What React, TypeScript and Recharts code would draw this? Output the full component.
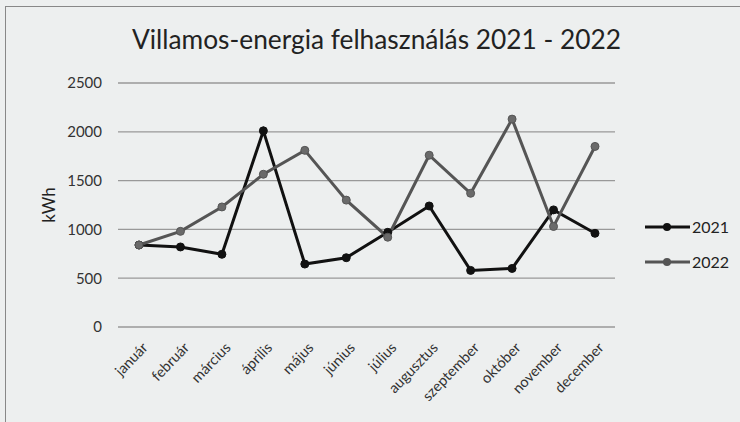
import React from 'react';
import { LineChart, Line, XAxis, YAxis, CartesianGrid, Label } from 'recharts';

const months = ['január', 'február', 'március', 'április', 'május', 'június', 'július', 'augusztus', 'szeptember', 'október', 'november', 'december'];
const values2021 = [840, 820, 745, 2010, 645, 710, 970, 1240, 580, 600, 1200, 960];
const values2022 = [840, 980, 1230, 1565, 1810, 1300, 920, 1760, 1370, 2130, 1030, 1850];
const yTicks = [0, 500, 1000, 1500, 2000, 2500];
const seriesNames = ['2021', '2022'];
const seriesColors = ['#111111', '#555555'];

const data = months.map((m, i) => ({ month: m, y2021: values2021[i], y2022: values2022[i] }));

const FONT = 'Lato, "Open Sans", sans-serif';

const XTick = (props: any) => {
  const { x, y, payload } = props;
  return (
    <g transform={`translate(${x + 6},${y + 10})`}>
      <text x={0} y={0} dy="0.35em" textAnchor="end" transform="rotate(-46)" fill="#333" fontSize={14.5} fontFamily={FONT}>
        {payload.value}
      </text>
    </g>
  );
};

const LegendBox = () => (
  <div style={{ position: 'absolute', left: 645, top: 217, display: 'flex', flexDirection: 'column', gap: 16 }}>
    {seriesNames.map((name, i) => (
      <div key={i} style={{ display: 'flex', alignItems: 'center', fontFamily: FONT, fontSize: 16, color: '#222', lineHeight: '19px' }}>
        <svg width={45} height={12}>
          <line x1={0} y1={6} x2={45} y2={6} stroke={seriesColors[i]} strokeWidth={3} />
          <circle cx={22} cy={6} r={4} fill={seriesColors[i]} />
        </svg>
        <span style={{ marginLeft: 2 }}>{name}</span>
      </div>
    ))}
  </div>
);

export default function App() {
  return (
    <div style={{ position: 'absolute', left: 0, top: 0, width: 740, height: 422, background: '#edefef', overflow: 'hidden' }}>
      <div style={{ position: 'absolute', left: 5, top: 6, right: 0, bottom: 0, borderLeft: '1px solid #888', borderTop: '1px solid #888' }} />
      <div style={{ position: 'absolute', left: 0, top: 23, width: 753, textAlign: 'center', fontFamily: FONT, fontSize: 26.3, color: '#222' }}>
        Villamos-energia felhasználás 2021 - 2022
      </div>
      <div style={{ position: 'absolute', left: 0, top: 0 }}>
        <LineChart width={740} height={422} data={data} margin={{ top: 83, right: 125, bottom: 35, left: 0 }}>
          <CartesianGrid vertical={false} stroke="#999" strokeWidth={1.3} />
          <XAxis
            dataKey="month"
            axisLine={false}
            tickLine={false}
            tick={<XTick />}
            height={60}
            interval={0}
            padding={{ left: 21, right: 20 }}
          />
          <YAxis
            domain={[0, 2500]}
            ticks={yTicks}
            axisLine={false}
            tickLine={false}
            width={118}
            tickMargin={10}
            tick={{ fill: '#333', fontSize: 15, fontFamily: FONT }}
          >
            <Label
              content={(p: any) => {
                const vb = p.viewBox;
                const cx = vb.x + 48;
                const cy = vb.y + vb.height / 2;
                return (
                  <text x={cx} y={cy} textAnchor="middle" dominantBaseline="central" transform={`rotate(-90, ${cx}, ${cy})`} fill="#222" fontSize={17} fontFamily={FONT}>
                    kWh
                  </text>
                );
              }}
            />
          </YAxis>
          <Line
            type="linear"
            dataKey="y2021"
            name={seriesNames[0]}
            stroke={seriesColors[0]}
            strokeWidth={3}
            dot={{ r: 4, fill: seriesColors[0], stroke: seriesColors[0], strokeWidth: 1 }}
            isAnimationActive={false}
          />
          <Line
            type="linear"
            dataKey="y2022"
            name={seriesNames[1]}
            stroke={seriesColors[1]}
            strokeWidth={3}
            dot={{ r: 4, fill: '#6a6a6a', stroke: seriesColors[1], strokeWidth: 1 }}
            isAnimationActive={false}
          />
        </LineChart>
      </div>
      <LegendBox />
    </div>
  );
}
